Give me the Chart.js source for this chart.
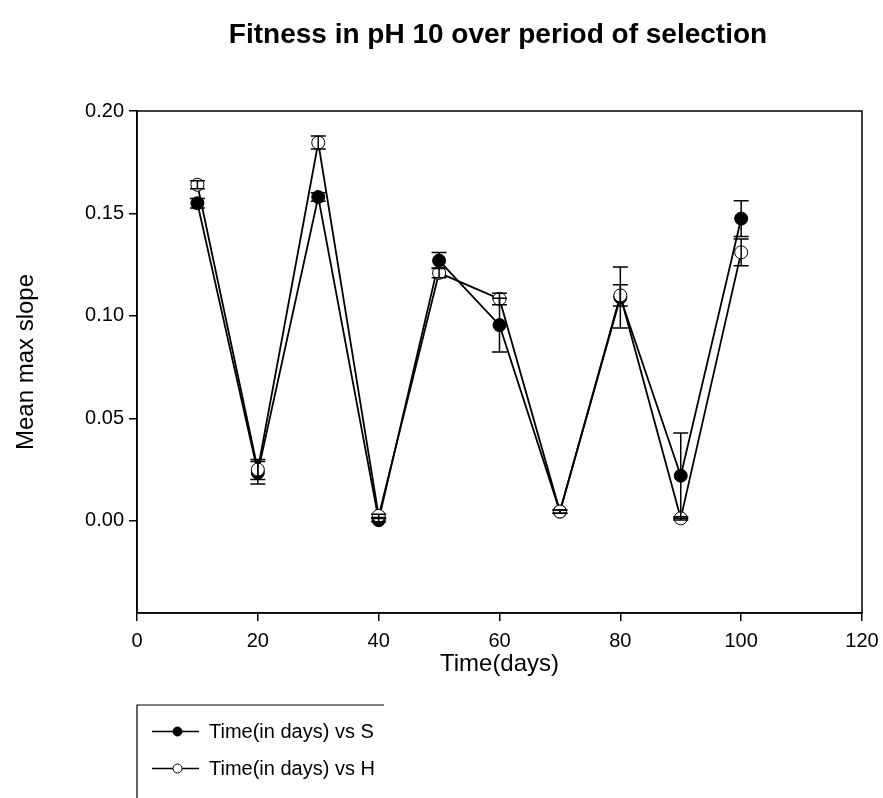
<!DOCTYPE html>
<html>
<head>
<meta charset="utf-8">
<script src="https://cdn.jsdelivr.net/npm/chart.js@4/dist/chart.umd.min.js"></script>
<style>
  body { margin: 0; background: #fff; }
  canvas { display: block; }
</style>
</head>
<body>
<canvas id="fitness-chart" width="883" height="798"></canvas>
<script>
// values
var days = [10, 20, 30, 40, 50, 60, 70, 80, 90, 100];
var sMean = [0.155, 0.0235, 0.158, 0.0003, 0.127, 0.0955, 0.0045, 0.109, 0.022, 0.1475];
var sErr  = [0.0023, 0.0055, 0.0021, 0.0008, 0.0039, 0.0131, 0.0008, 0.0149, 0.0208, 0.0087];
var hMean = [0.164, 0.025, 0.1846, 0.0024, 0.121, 0.1083, 0.0045, 0.110, 0.0012, 0.131];
var hErr  = [0.002, 0.0049, 0.0032, 0.0008, 0.0024, 0.0028, 0.0008, 0.0052, 0.0008, 0.0065];
var yTicks = [0, 0.05, 0.10, 0.15, 0.20];
var seriesNames = ['Time(in days) vs S', 'Time(in days) vs H'];

function toPoints(vals) {
    return days.map(function (d, i) { return {x: d, y: vals[i]}; });
}

// error bars with caps, drawn over the markers like SigmaPlot does
var errorBars = {
    id: 'errorBars',
    afterDatasetsDraw: function (chart) {
        var ctx = chart.ctx;
        var ys = chart.scales.y;
        ctx.save();
        ctx.strokeStyle = '#000';
        ctx.lineWidth = 1.5;
        chart.data.datasets.forEach(function (ds, di) {
            var meta = chart.getDatasetMeta(di);
            meta.data.forEach(function (pt, i) {
                var v = ds.data[i].y, e = ds.errors[i];
                var top = ys.getPixelForValue(v + e);
                var bot = ys.getPixelForValue(v - e);
                ctx.beginPath();
                ctx.moveTo(pt.x, top); ctx.lineTo(pt.x, bot);
                ctx.moveTo(pt.x - 7.5, top); ctx.lineTo(pt.x + 7.5, top);
                ctx.moveTo(pt.x - 7.5, bot); ctx.lineTo(pt.x + 7.5, bot);
                ctx.stroke();
            });
        });
        ctx.restore();
    }
};

// frame, title and the clipped legend box
var decorations = {
    id: 'decorations',
    afterDraw: function (chart) {
        var ctx = chart.ctx;
        var a = chart.chartArea;
        ctx.save();
        ctx.strokeStyle = '#000';
        ctx.lineWidth = 1.5;
        ctx.strokeRect(a.left, a.top, a.right - a.left, a.bottom - a.top);

        ctx.fillStyle = '#000';
        ctx.font = 'bold 28px "Liberation Sans", Arial, sans-serif';
        ctx.textAlign = 'center';
        ctx.textBaseline = 'alphabetic';
        ctx.fillText('Fitness in pH 10 over period of selection', 498, 43);

        // legend
        ctx.lineWidth = 1.2;
        ctx.beginPath();
        ctx.moveTo(137, 798); ctx.lineTo(137, 705); ctx.lineTo(384, 705);
        ctx.stroke();
        var rows = [731.5, 768.5];
        ctx.font = '20px "Liberation Sans", Arial, sans-serif';
        ctx.textAlign = 'left';
        ctx.textBaseline = 'middle';
        chart.data.datasets.forEach(function (ds, di) {
            var y = rows[di];
            ctx.lineWidth = 1.5;
            ctx.beginPath();
            ctx.moveTo(152, y); ctx.lineTo(199, y);
            ctx.stroke();
            ctx.beginPath();
            ctx.arc(177.5, y, 4.5, 0, Math.PI * 2);
            ctx.fillStyle = ds.pointBackgroundColor;
            ctx.fill();
            ctx.lineWidth = 1;
            ctx.stroke();
            ctx.fillStyle = '#000';
            ctx.fillText(ds.label, 209, y + 1);
        });
        ctx.restore();
    }
};

window.onload = function () {
    var ctx = document.getElementById('fitness-chart');
    new Chart(ctx, {
        type: 'line',
        data: {
            datasets: [
                {
                    label: seriesNames[0],
                    data: toPoints(sMean),
                    errors: sErr,
                    borderColor: '#000',
                    borderWidth: 1.8,
                    pointRadius: 6.5,
                    pointBackgroundColor: '#000',
                    pointBorderColor: '#000',
                    pointBorderWidth: 1,
                    tension: 0,
                    order: 2
                },
                {
                    label: seriesNames[1],
                    data: toPoints(hMean),
                    errors: hErr,
                    borderColor: '#000',
                    borderWidth: 1.8,
                    pointRadius: 6.5,
                    pointBackgroundColor: '#fff',
                    pointBorderColor: '#000',
                    pointBorderWidth: 1,
                    tension: 0,
                    order: 1
                }
            ]
        },
        options: {
            responsive: false,
            animation: false,
            devicePixelRatio: 1,
            layout: {padding: {top: 111, right: 21, left: 0, bottom: 0}},
            plugins: {
                legend: {display: false},
                title: {display: false},
                tooltip: {enabled: false}
            },
            scales: {
                x: {
                    type: 'linear',
                    min: 0,
                    max: 120,
                    ticks: {
                        stepSize: 20,
                        color: '#000',
                        padding: 8,
                        font: {size: 20, family: '"Liberation Sans", Arial, sans-serif'}
                    },
                    grid: {display: true, drawOnChartArea: false, drawTicks: true, tickLength: 8, color: '#000', lineWidth: 1.5},
                    border: {display: true, color: '#000', width: 1.5},
                    title: {
                        display: true,
                        text: 'Time(days)',
                        color: '#000',
                        padding: {bottom: 119},
                        font: {size: 24, family: '"Liberation Sans", Arial, sans-serif'}
                    },
                    afterFit: function (s) {
                        s.height = 185;
                        s.paddingLeft = 0;
                        s.paddingRight = 0;
                    }
                },
                y: {
                    min: -0.045,
                    max: 0.2,
                    afterBuildTicks: function (s) {
                        s.ticks = yTicks.map(function (v) { return {value: v}; });
                    },
                    ticks: {
                        color: '#000',
                        padding: 5,
                        font: {size: 20, family: '"Liberation Sans", Arial, sans-serif'},
                        callback: function (v) { return v.toFixed(2); }
                    },
                    grid: {display: true, drawOnChartArea: false, drawTicks: true, tickLength: 8, color: '#000', lineWidth: 1.5},
                    border: {display: true, color: '#000', width: 1.5},
                    title: {
                        display: true,
                        text: 'Mean max slope',
                        color: '#000',
                        padding: {top: 12},
                        font: {size: 24, family: '"Liberation Sans", Arial, sans-serif'}
                    },
                    afterFit: function (s) {
                        s.width = 137;
                        s.paddingTop = 0;
                        s.paddingBottom = 0;
                    }
                }
            }
        },
        plugins: [errorBars, decorations]
    });
};
</script>
</body>
</html>
